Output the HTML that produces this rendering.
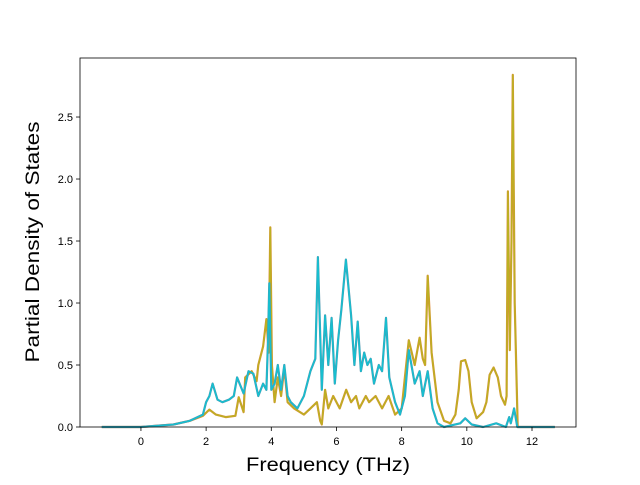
<!DOCTYPE html>
<html><head><meta charset="utf-8"><style>
body{margin:0;background:#fff;}
svg text{font-family:"Liberation Sans","DejaVu Sans",sans-serif;fill:#000;}
</style></head><body>
<svg id="chart" width="640" height="480" viewBox="0 0 640 480" xmlns="http://www.w3.org/2000/svg">
<rect width="640" height="480" fill="#fff"/>
<g id="plot"></g>
<rect x="80" y="58" width="496" height="369" fill="none" stroke="#000" stroke-width="0.8"/>
<g id="axes"></g>
<text x="328" y="471" font-size="19" text-anchor="middle" textLength="164" lengthAdjust="spacingAndGlyphs">Frequency (THz)</text>
<text transform="translate(39,242) rotate(-90)" font-size="19" text-anchor="middle" textLength="241" lengthAdjust="spacingAndGlyphs">Partial Density of States</text>
</svg>
<script>
const xTicks=[0,2,4,6,8,10,12];
const yTicks=[0.0,0.5,1.0,1.5,2.0,2.5];
const freqA=[-1.2,0,1,1.5,1.9,2.1,2.3,2.6,2.9,3.0,3.15,3.2,3.4,3.55,3.6,3.75,3.85,3.92,3.97,4.02,4.1,4.2,4.3,4.4,4.5,4.7,5.0,5.2,5.4,5.5,5.55,5.65,5.75,5.9,6.1,6.3,6.45,6.6,6.7,6.9,7.0,7.2,7.4,7.6,7.8,8.0,8.1,8.22,8.4,8.55,8.65,8.72,8.8,8.92,9.1,9.3,9.5,9.65,9.75,9.82,9.95,10.05,10.15,10.3,10.5,10.6,10.7,10.82,10.95,11.05,11.17,11.22,11.26,11.32,11.37,11.41,11.47,11.56,12.7];
const valA=[0,0,0.02,0.05,0.09,0.14,0.1,0.08,0.09,0.24,0.12,0.4,0.45,0.37,0.5,0.65,0.87,0.6,1.61,0.5,0.2,0.4,0.25,0.48,0.2,0.15,0.1,0.15,0.2,0.05,0.02,0.3,0.15,0.25,0.15,0.3,0.2,0.25,0.15,0.25,0.2,0.25,0.15,0.25,0.1,0.15,0.4,0.7,0.5,0.72,0.55,0.5,1.22,0.6,0.2,0.05,0.03,0.1,0.3,0.53,0.54,0.45,0.2,0.07,0.12,0.2,0.42,0.48,0.4,0.25,0.18,0.25,1.9,0.62,1.5,2.84,1.0,0,0];
const freqB=[-1.2,0,1,1.5,1.9,2.0,2.1,2.2,2.35,2.5,2.7,2.85,2.95,3.15,3.3,3.45,3.6,3.75,3.85,3.9,3.94,4.0,4.1,4.2,4.3,4.4,4.5,4.6,4.8,5.0,5.2,5.35,5.43,5.55,5.65,5.75,5.85,5.95,6.05,6.15,6.29,6.45,6.55,6.65,6.75,6.85,6.95,7.05,7.15,7.3,7.4,7.52,7.62,7.8,7.95,8.1,8.22,8.4,8.55,8.65,8.8,8.95,9.1,9.3,9.8,9.95,10.15,10.5,10.9,11.2,11.3,11.35,11.45,11.55,12.7];
const valB=[0,0,0.02,0.05,0.1,0.2,0.25,0.35,0.22,0.2,0.22,0.25,0.4,0.27,0.45,0.43,0.25,0.35,0.3,0.7,1.16,0.3,0.35,0.5,0.3,0.5,0.25,0.2,0.15,0.25,0.45,0.55,1.37,0.3,0.9,0.5,0.88,0.35,0.7,0.95,1.35,0.9,0.5,0.85,0.45,0.6,0.5,0.55,0.35,0.5,0.45,0.88,0.4,0.2,0.1,0.25,0.62,0.35,0.45,0.25,0.45,0.15,0.03,0,0.03,0.07,0.02,0,0.03,0,0.08,0.03,0.15,0,0];
const L=80,R=576,T=58,B=427,X0=-1.87,X1=13.35,Y0=0,Y1=2.976;
const sx=v=>L+(v-X0)/(X1-X0)*(R-L);
const sy=v=>B-(v-Y0)/(Y1-Y0)*(B-T);
const NS="http://www.w3.org/2000/svg";
const plot=document.getElementById('plot'),axes=document.getElementById('axes');
function line(fs,vs,color,w,name){
  const p=document.createElementNS(NS,'path');
  p.setAttribute('d',fs.map((f,i)=>(i?'L':'M')+sx(f).toFixed(1)+','+sy(vs[i]).toFixed(1)).join(''));
  p.setAttribute('fill','none');p.setAttribute('stroke',color);p.setAttribute('stroke-width',w);p.setAttribute('stroke-linejoin','round');
  
  
  plot.appendChild(p);
}
line(freqA,valA,'#e08a3a',2.2,'series-a-underlay');
line(freqA,valA,'#bcb022',1.5,'series-a-line');
line(freqB,valB,'#5a8fa8',2.2,'series-b-underlay');
line(freqB,valB,'#17becf',1.6,'series-b-line');
xTicks.forEach(t=>{
  const x=sx(t);
  const l=document.createElementNS(NS,'line');
  l.setAttribute('x1',x);l.setAttribute('x2',x);l.setAttribute('y1',B);l.setAttribute('y2',B+4);l.setAttribute('stroke','#000');l.setAttribute('stroke-width','0.8');
  
  
  axes.appendChild(l);
  const s=document.createElementNS(NS,'text');
  s.setAttribute('x',x);s.setAttribute('y',B+18);s.setAttribute('font-size','11');s.setAttribute('text-anchor','middle');s.textContent=t;
  
  
  axes.appendChild(s);
});
yTicks.forEach(t=>{
  const y=sy(t);
  const l=document.createElementNS(NS,'line');
  l.setAttribute('x1',L-4);l.setAttribute('x2',L);l.setAttribute('y1',y);l.setAttribute('y2',y);l.setAttribute('stroke','#000');l.setAttribute('stroke-width','0.8');
  
  
  axes.appendChild(l);
  const s=document.createElementNS(NS,'text');
  s.setAttribute('x',L-7);s.setAttribute('y',y+4);s.setAttribute('font-size','11');s.setAttribute('text-anchor','end');s.textContent=t.toFixed(1);
  
  
  axes.appendChild(s);
});
</script>
</body></html>
